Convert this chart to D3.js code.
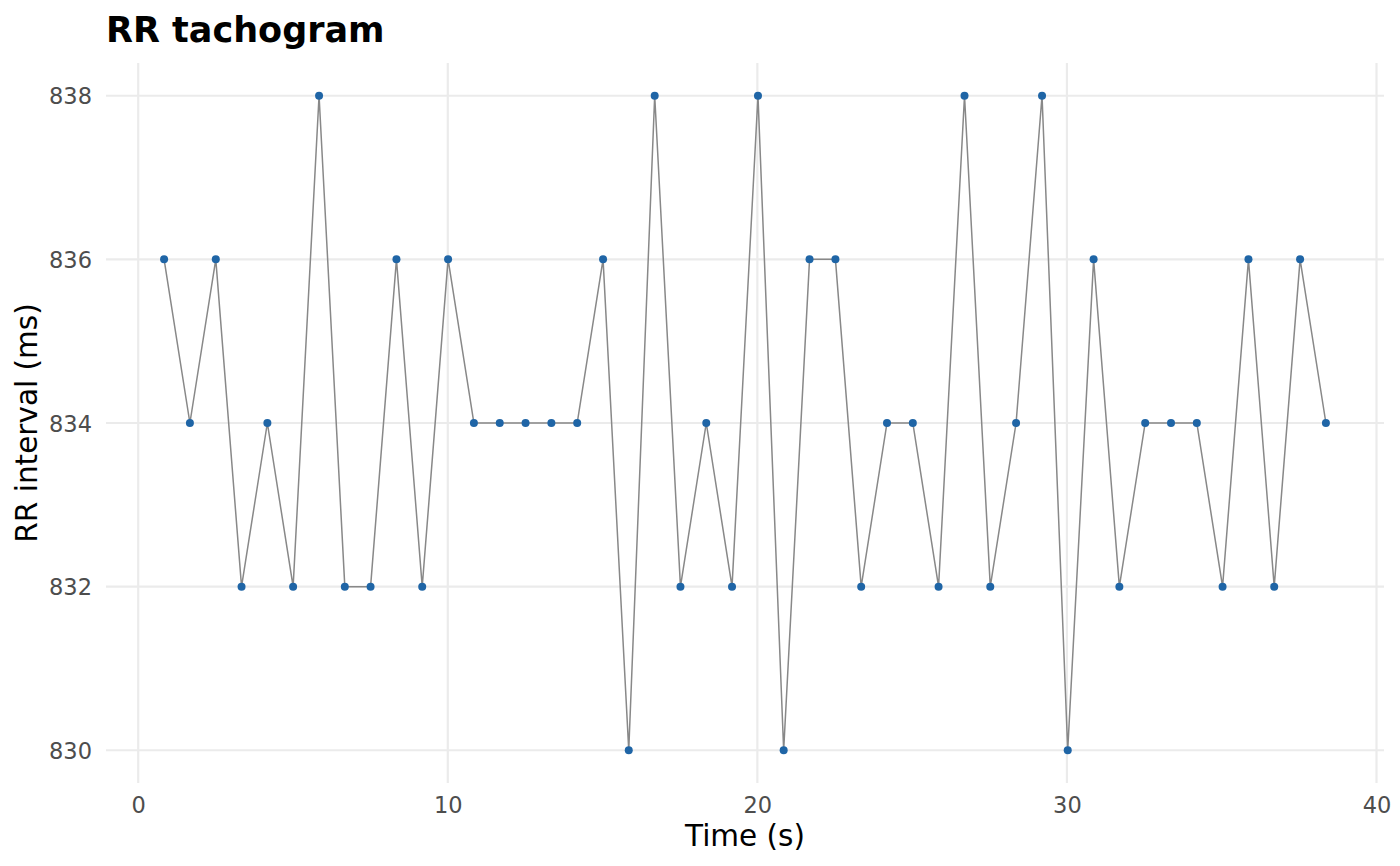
<!DOCTYPE html>
<html>
  <head>
    <meta charset="UTF-8">
    <title>RR tachogram</title>
    <script src="https://d3js.org/d3.v7.min.js"></script>
    <style>
      body { margin: 0; background: #fff; }
      svg { font-family: "DejaVu Sans", sans-serif; }
      .grid line { stroke: #ebebeb; stroke-width: 2.2px; }
    </style>
  </head>
  <body>
    <div id="chart"></div>
    <script>
      // beat times (s) and RR intervals (ms)
      const times = [
        0.836, 1.670, 2.506, 3.338, 4.172, 5.004, 5.842, 6.674, 7.506, 8.342,
        9.174, 10.010, 10.844, 11.678, 12.512, 13.346, 14.180, 15.016, 15.846, 16.684,
        17.516, 18.350, 19.182, 20.020, 20.850, 21.686, 22.522, 23.354, 24.188, 25.022,
        25.854, 26.692, 27.524, 28.358, 29.196, 30.026, 30.862, 31.694, 32.528, 33.362,
        34.196, 35.028, 35.864, 36.696, 37.532, 38.366
      ];
      const rr = [
        836, 834, 836, 832, 834, 832, 838, 832, 832, 836,
        832, 836, 834, 834, 834, 834, 834, 836, 830, 838,
        832, 834, 832, 838, 830, 836, 836, 832, 834, 834,
        832, 838, 832, 834, 838, 830, 836, 832, 834, 834,
        834, 832, 836, 832, 836, 834
      ];
      const xTicks = [0, 10, 20, 30, 40];
      const yTicks = [830, 832, 834, 836, 838];

      const width = 1400;
      const height = 866;
      const panel = { left: 106, right: 1384, top: 63, bottom: 783 };

      const data = times.map((t, i) => ({ t: t, rr: rr[i] }));

      // ggplot-style 5% expansion
      const xExt = d3.extent(times);
      const xPad = (xExt[1] - xExt[0]) * 0.05;
      const yExt = d3.extent(rr);
      const yPad = (yExt[1] - yExt[0]) * 0.05;

      const x = d3.scaleLinear()
        .domain([xExt[0] - xPad, xExt[1] + xPad])
        .range([panel.left, panel.right]);
      const y = d3.scaleLinear()
        .domain([yExt[0] - yPad, yExt[1] + yPad])
        .range([panel.bottom, panel.top]);

      const svg = d3.select("#chart")
        .append("svg")
        .attr("width", width)
        .attr("height", height);

      // grid
      const grid = svg.append("g").attr("class", "grid");
      grid.selectAll(".gx")
        .data(xTicks)
        .join("line")
        .attr("class", "gx")
        .attr("x1", d => x(d)).attr("x2", d => x(d))
        .attr("y1", panel.top).attr("y2", panel.bottom);
      grid.selectAll(".gy")
        .data(yTicks)
        .join("line")
        .attr("class", "gy")
        .attr("x1", panel.left).attr("x2", panel.right)
        .attr("y1", d => y(d)).attr("y2", d => y(d));

      // axes (no lines, just labels)
      const xAxis = svg.append("g")
        .attr("transform", `translate(0,${panel.bottom})`)
        .call(d3.axisBottom(x).tickValues(xTicks).tickSize(0));
      const yAxis = svg.append("g")
        .attr("transform", `translate(${panel.left},0)`)
        .call(d3.axisLeft(y).tickValues(yTicks).tickSize(0).tickPadding(14));
      [xAxis, yAxis].forEach(a => {
        a.select(".domain").remove();
        a.selectAll("text")
          .attr("font-family", "DejaVu Sans")
          .attr("font-size", 22.5)
          .attr("fill", "#4d4d4d");
      });
      xAxis.selectAll("text").attr("dy", 0).attr("y", 30);
      yAxis.selectAll("text").attr("dy", "0.36em");

      // line + points
      const line = d3.line()
        .x(d => x(d.t))
        .y(d => y(d.rr));

      svg.append("path")
        .datum(data)
        .attr("d", line)
        .attr("fill", "none")
        .attr("stroke", "#888888")
        .attr("stroke-width", 1.5);

      svg.selectAll(".pt")
        .data(data)
        .join("circle")
        .attr("class", "pt")
        .attr("cx", d => x(d.t))
        .attr("cy", d => y(d.rr))
        .attr("r", 4)
        .attr("fill", "#1f65a6");

      // titles
      svg.append("text")
        .attr("x", 106)
        .attr("y", 42)
        .attr("font-size", 35)
        .attr("font-weight", "bold")
        .attr("fill", "#000")
        .text("RR tachogram");

      svg.append("text")
        .attr("x", (panel.left + panel.right) / 2)
        .attr("y", 846)
        .attr("text-anchor", "middle")
        .attr("font-size", 29.5)
        .attr("fill", "#000")
        .text("Time (s)");

      svg.append("text")
        .attr("transform", `translate(37,${(panel.top + panel.bottom) / 2}) rotate(-90)`)
        .attr("text-anchor", "middle")
        .attr("font-size", 29.5)
        .attr("fill", "#000")
        .text("RR interval (ms)");
    </script>
  </body>
</html>
